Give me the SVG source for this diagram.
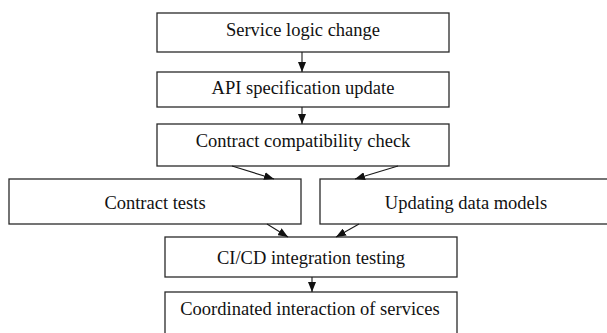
<svg xmlns="http://www.w3.org/2000/svg" width="607" height="333" viewBox="0 0 607 333">
  <style>
    .box { fill: #ffffff; stroke: #2a2a2a; stroke-width: 1.3; }
    .label { font-size: 18.5px; fill: #111111; text-anchor: middle; }
    .edge { fill: none; stroke: #1a1a1a; stroke-width: 1.1; }
  </style>
  <defs>
    <marker id="arrow" viewBox="0 0 10 8" refX="10" refY="4" markerWidth="10" markerHeight="8" markerUnits="userSpaceOnUse" orient="auto">
      <path d="M0,0 L10,4 L0,8 Z" fill="#111111"/>
    </marker>
  </defs>
  <rect width="607" height="333" fill="#ffffff"/>

  <g font-family="'Liberation Serif', 'DejaVu Serif', serif">
    <g id="node-service-logic">
      <rect class="box" x="157" y="13" width="292" height="39"/>
      <text class="label" x="303" y="35.5">Service logic change</text>
    </g>
    <g id="node-api-spec">
      <rect class="box" x="157" y="72" width="292" height="35"/>
      <text class="label" x="303" y="94">API specification update</text>
    </g>
    <g id="node-compat-check">
      <rect class="box" x="157" y="124" width="292" height="42"/>
      <text class="label" x="303" y="147">Contract compatibility check</text>
    </g>
    <g id="node-contract-tests">
      <rect class="box" x="9" y="179" width="292" height="45"/>
      <text class="label" x="155" y="209">Contract tests</text>
    </g>
    <g id="node-data-models">
      <rect class="box" x="320" y="179" width="292" height="45"/>
      <text class="label" x="466" y="209">Updating data models</text>
    </g>
    <g id="node-cicd">
      <rect class="box" x="165" y="237" width="292" height="40"/>
      <text class="label" x="311" y="264">CI/CD integration testing</text>
    </g>
    <g id="node-coordinated">
      <rect class="box" x="165" y="292" width="292" height="50"/>
      <text class="label" x="310" y="315">Coordinated interaction of services</text>
    </g>
  </g>

  <g id="connectors">
    <line class="edge" x1="302" y1="52" x2="302" y2="72" marker-end="url(#arrow)"/>
    <line class="edge" x1="302" y1="107" x2="302" y2="124" marker-end="url(#arrow)"/>
    <line class="edge" x1="232" y1="166" x2="274" y2="179" marker-end="url(#arrow)"/>
    <line class="edge" x1="398" y1="166" x2="355" y2="179" marker-end="url(#arrow)"/>
    <line class="edge" x1="267" y1="224" x2="288" y2="237" marker-end="url(#arrow)"/>
    <line class="edge" x1="359" y1="224" x2="336" y2="237" marker-end="url(#arrow)"/>
    <line class="edge" x1="312" y1="277" x2="312" y2="292" marker-end="url(#arrow)"/>
  </g>
</svg>
